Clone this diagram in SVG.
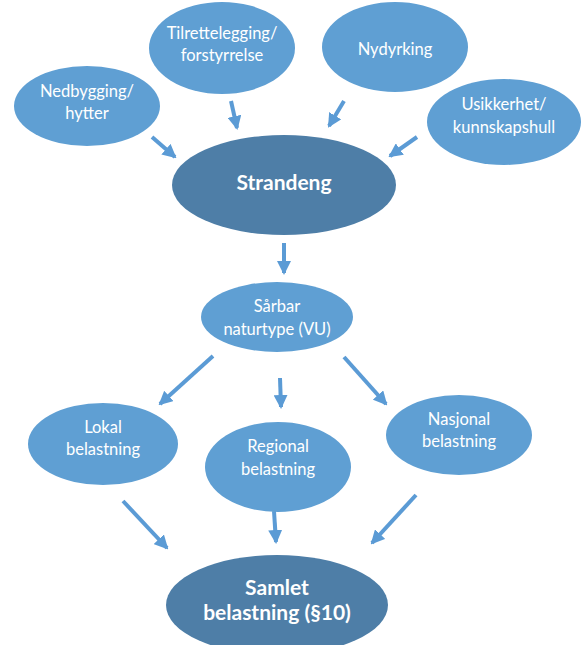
<svg xmlns="http://www.w3.org/2000/svg" width="581" height="645" viewBox="0 0 581 645">
<defs>
<marker id="ah" markerUnits="userSpaceOnUse" markerWidth="14" markerHeight="14" viewBox="0 0 14 14" refX="12" refY="7" orient="auto">
<path d="M0,0 L14,7 L0,14 Z" fill="#5B9BD5"/>
</marker>
</defs>
<style>
.l{fill:#5F9FD3}
.d{fill:#4E7EA7}
.t{fill:#fff;font-family:Lato,"Open Sans","Liberation Sans",sans-serif;font-size:16.5px;text-anchor:middle}
.b{fill:#fff;font-family:Lato,"Open Sans","Liberation Sans",sans-serif;font-size:21px;font-weight:bold;text-anchor:middle}
.c{stroke:#5B9BD5;stroke-width:4;fill:none;marker-end:url(#ah)}
</style>
<rect width="581" height="645" fill="#fff"/>
<g id="connectors">
<line class="c" x1="152" y1="137" x2="175" y2="157"/>
<line class="c" x1="231" y1="101" x2="237" y2="128"/>
<line class="c" x1="344" y1="101" x2="329" y2="126"/>
<line class="c" x1="417" y1="137" x2="390" y2="156"/>
<line class="c" x1="284" y1="243" x2="284" y2="273"/>
<line class="c" x1="213" y1="356" x2="160" y2="404"/>
<line class="c" x1="280" y1="378" x2="281" y2="407"/>
<line class="c" x1="344" y1="357" x2="386" y2="404"/>
<line class="c" x1="123" y1="501" x2="167" y2="548"/>
<line class="c" x1="274" y1="511" x2="276" y2="542"/>
<line class="c" x1="416" y1="495" x2="372" y2="543"/>
</g>
<g id="nedbygging">
<ellipse class="l" cx="87" cy="106" rx="73" ry="40"/>
<text class="t" x="87" y="97">Nedbygging/</text>
<text class="t" x="87" y="119">hytter</text>
</g>
<g id="tilrettelegging">
<ellipse class="l" cx="222" cy="48" rx="73" ry="46"/>
<text class="t" x="222" y="39">Tilrettelegging/</text>
<text class="t" x="222" y="61">forstyrrelse</text>
</g>
<g id="nydyrking">
<ellipse class="l" cx="395" cy="47" rx="73" ry="45"/>
<text class="t" x="395" y="55">Nydyrking</text>
</g>
<g id="usikkerhet">
<ellipse class="l" cx="504" cy="122" rx="77" ry="43"/>
<text class="t" x="504" y="110">Usikkerhet/</text>
<text class="t" x="504" y="133">kunnskapshull</text>
</g>
<g id="strandeng">
<ellipse class="d" cx="284" cy="185" rx="112" ry="50"/>
<text class="b" x="284" y="190">Strandeng</text>
</g>
<g id="sarbar">
<ellipse class="l" cx="277" cy="317" rx="76" ry="35"/>
<text class="t" x="277" y="312">Sårbar</text>
<text class="t" x="277" y="335">naturtype (VU)</text>
</g>
<g id="lokal">
<ellipse class="l" cx="103" cy="444" rx="75" ry="41"/>
<text class="t" x="103" y="433">Lokal</text>
<text class="t" x="103" y="455">belastning</text>
</g>
<g id="regional">
<ellipse class="l" cx="278" cy="467" rx="73" ry="45"/>
<text class="t" x="278" y="452">Regional</text>
<text class="t" x="278" y="475">belastning</text>
</g>
<g id="nasjonal">
<ellipse class="l" cx="459" cy="435" rx="73" ry="40"/>
<text class="t" x="459" y="425">Nasjonal</text>
<text class="t" x="459" y="447">belastning</text>
</g>
<g id="samlet">
<ellipse class="d" cx="277" cy="605" rx="111" ry="50"/>
<text class="b" x="277" y="595">Samlet</text>
<text class="b" x="277" y="620">belastning (§10)</text>
</g>
</svg>
